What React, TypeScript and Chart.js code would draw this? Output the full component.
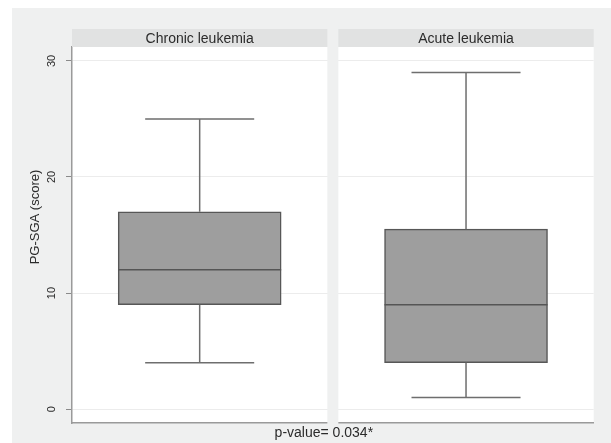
import { useEffect, useRef } from 'react';
import { Chart, registerables } from 'chart.js';

Chart.register(...registerables);

// ---- data ----
const groups = ['Chronic leukemia', 'Acute leukemia'];
const whiskerLow = [4, 1];
const q1 = [9, 4];
const median = [12, 9];
const q3 = [17, 15.5];
const whiskerHigh = [25, 29];
const yTicks = [0, 10, 20, 30];
const yTitle = 'PG-SGA (score)';
const note = 'p-value= 0.034*';

// ---- style ----
const GAP = 0.0431; // gap between panels, in panel widths
const CAP = 0.2135; // half-width of whisker caps, in panel widths
const BG = '#eff0f0';
const HEADER = '#e1e2e2';
const TEXT = '#2b2b2b';
const FONT = '"Liberation Sans", Arial, Helvetica, sans-serif';

const center = (i: number) => i * (1 + GAP);

const panelPlugin = {
  id: 'panels',
  beforeDraw(chart: any) {
    const { ctx, chartArea: a } = chart;
    ctx.save();
    ctx.fillStyle = BG;
    ctx.fillRect(0, 0, chart.width, chart.height);
    ctx.fillStyle = '#ffffff';
    ctx.fillRect(a.left, a.top, a.right - a.left, a.bottom - a.top);
    ctx.restore();
  },
  beforeDatasetsDraw(chart: any) {
    const { ctx, chartArea: a, scales } = chart;
    const x = scales.x;
    ctx.save();
    const g0 = x.getPixelForValue(0.5);
    const g1 = x.getPixelForValue(0.5 + GAP);
    ctx.fillStyle = BG;
    ctx.fillRect(g0, a.top - 22, g1 - g0, a.bottom - a.top + 26);
    groups.forEach((name, i) => {
      const l = x.getPixelForValue(center(i) - 0.5);
      const r = x.getPixelForValue(center(i) + 0.5);
      ctx.fillStyle = HEADER;
      ctx.fillRect(l, a.top - 18, r - l, 18);
      ctx.fillStyle = TEXT;
      ctx.font = `14px ${FONT}`;
      ctx.textAlign = 'center';
      ctx.textBaseline = 'alphabetic';
      ctx.fillText(name, (l + r) / 2, a.top - 4);
    });
    ctx.restore();
  },
  afterDatasetsDraw(chart: any) {
    const { ctx, scales } = chart;
    const x = scales.x;
    const y = scales.y;
    const meta = chart.getDatasetMeta(0);
    ctx.save();
    groups.forEach((_, i) => {
      const cx = x.getPixelForValue(center(i));
      const capL = x.getPixelForValue(center(i) - CAP);
      const capR = x.getPixelForValue(center(i) + CAP);
      const yHi = y.getPixelForValue(whiskerHigh[i]);
      const yLo = y.getPixelForValue(whiskerLow[i]);
      ctx.strokeStyle = '#6e6e6e';
      ctx.lineWidth = 1.5;
      ctx.beginPath();
      ctx.moveTo(cx, y.getPixelForValue(q3[i]));
      ctx.lineTo(cx, yHi);
      ctx.moveTo(capL, yHi);
      ctx.lineTo(capR, yHi);
      ctx.moveTo(cx, y.getPixelForValue(q1[i]));
      ctx.lineTo(cx, yLo);
      ctx.moveTo(capL, yLo);
      ctx.lineTo(capR, yLo);
      ctx.stroke();
      const bar = meta.data[i];
      const ym = y.getPixelForValue(median[i]);
      ctx.strokeStyle = '#555555';
      ctx.beginPath();
      ctx.moveTo(bar.x - bar.width / 2, ym);
      ctx.lineTo(bar.x + bar.width / 2, ym);
      ctx.stroke();
    });
    ctx.restore();
  },
  afterDraw(chart: any) {
    const { ctx, chartArea: a } = chart;
    ctx.save();
    ctx.fillStyle = TEXT;
    ctx.font = `13px ${FONT}`;
    ctx.textAlign = 'center';
    ctx.textBaseline = 'middle';
    ctx.translate(23.7, (a.top + a.bottom) / 2 - 18);
    ctx.rotate(-Math.PI / 2);
    ctx.fillText(yTitle, 0, 0);
    ctx.restore();
    ctx.save();
    ctx.fillStyle = TEXT;
    ctx.font = `14px ${FONT}`;
    ctx.textAlign = 'center';
    ctx.textBaseline = 'alphabetic';
    ctx.fillText(note, (a.left + a.right) / 2 - 9, a.bottom + 14);
    ctx.restore();
  },
};

export default function App() {
  const ref = useRef<HTMLCanvasElement | null>(null);
  useEffect(() => {
    if (!ref.current) return;
    const chart = new Chart(ref.current, {
      type: 'bar',
      data: {
        datasets: [
          {
            data: groups.map((_, i) => ({ x: center(i), y: [q1[i], q3[i]] })) as any,
            backgroundColor: '#9e9e9e',
            borderColor: '#575757',
            borderWidth: 1.5,
            borderSkipped: false,
            barThickness: 163,
          },
        ],
      },
      options: {
        responsive: false,
        animation: false,
        devicePixelRatio: 1,
        layout: { padding: { left: 0, top: 39, right: 17.3, bottom: 20 } },
        plugins: { legend: { display: false }, tooltip: { enabled: false } },
        scales: {
          x: {
            type: 'linear',
            offset: false,
            min: -0.5,
            max: 1.5 + GAP,
            grid: { display: true, offset: false, color: 'rgba(0,0,0,0)', drawTicks: false },
            border: { display: true, color: '#9a9a9a', width: 1.5 },
            ticks: { display: false },
            afterFit: (s: any) => {
              s.height = 0;
            },
          },
          y: {
            type: 'linear',
            min: -1.2,
            max: 31.2,
            afterBuildTicks: (s: any) => {
              s.ticks = yTicks.map((v) => ({ value: v }));
            },
            afterFit: (s: any) => {
              s.width = 60;
            },
            grid: { color: '#ececec', lineWidth: 1, tickLength: 6, tickColor: '#8a8a8a' },
            border: { display: true, color: '#9a9a9a', width: 1.5 },
            ticks: {
              minRotation: 90,
              maxRotation: 90,
              crossAlign: 'center',
              padding: 8,
              color: TEXT,
              font: { family: FONT, size: 11 },
            },
          },
        },
      },
      plugins: [panelPlugin],
    } as any);
    return () => chart.destroy();
  }, []);
  return (
    <div style={{ position: 'fixed', left: 12, top: 8 }}>
      <canvas ref={ref} width={599} height={435} style={{ display: 'block' }} />
    </div>
  );
}
